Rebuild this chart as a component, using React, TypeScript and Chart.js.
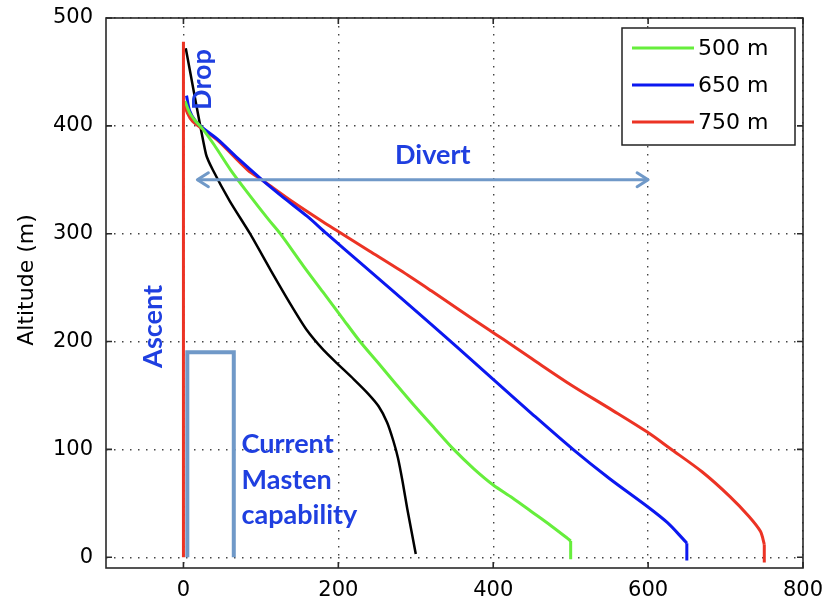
import { useEffect, useRef } from "react";
import { Chart, registerables } from "chart.js";

Chart.register(...registerables);

type Pt = [number, number];

const X_TICKS = [0, 200, 400, 600, 800];
const Y_TICKS = [0, 100, 200, 300, 400, 500];
const SERIES_LABELS = ["500 m", "650 m", "750 m"];

const GREEN_500: Pt[] = [
  [2, 423], [8, 412], [15, 405], [25, 397], [40, 382], [61, 359], [85, 336],
  [110, 313], [125, 300], [155, 270], [180, 246], [205, 222], [228, 200],
  [254, 178], [275, 160], [300, 139], [325, 119], [349, 100], [375, 82],
  [400, 67], [425, 55], [450, 42], [475, 29], [495, 18], [500, 15], [500, -2],
];

const BLUE_650: Pt[] = [
  [4, 428], [8, 414], [15, 405], [25, 398], [45, 387], [70, 370], [103, 349],
  [130, 333], [160, 316], [185, 300], [230, 272], [280, 241], [320, 216],
  [353, 195], [400, 165], [450, 133], [503, 100], [550, 73], [599, 47],
  [625, 32], [645, 17], [650, 13], [650, -3],
];

const RED_750: Pt[] = [
  [1, 422], [5, 412], [12, 404], [25, 397], [45, 386], [83, 359], [103, 349],
  [140, 330], [180, 311], [200, 302], [240, 284], [280, 266], [320, 247],
  [355, 230], [392, 212], [413, 202], [450, 184], [500, 160], [550, 138],
  [599, 116], [628, 101], [670, 79], [706, 56], [730, 38], [745, 24],
  [750, 12], [750, -5],
];

const BLACK_REF: Pt[] = [
  [3, 472], [29, 374], [38, 359], [60, 330], [86, 300], [112, 267], [138, 235],
  [159, 211], [181, 192], [198, 180], [220, 165], [238, 152], [252, 140],
  [263, 125], [271, 108], [277, 92], [283, 70], [289, 45], [300, 3],
];

const ASCENT_LINE: Pt[] = [[0, 0], [0, 478]];
const MASTEN_BOX: Pt[] = [[5, 0], [5, 190], [65, 190], [65, 0]];
const DIVERT_ARROW: Pt[] = [[18, 350], [600, 350]];

type Note = { text: string; x: number; y: number; rot: number; align: CanvasTextAlign };
const NOTES: Note[] = [
  { text: "Divert", x: 322, y: 365, rot: 0, align: "center" },
  { text: "Drop", x: 35.5, y: 443, rot: -90, align: "center" },
  { text: "Ascent", x: -27.6, y: 214, rot: -90, align: "center" },
  { text: "Current", x: 75, y: 97, rot: 0, align: "left" },
  { text: "Masten", x: 75, y: 63, rot: 0, align: "left" },
  { text: "capability", x: 75, y: 31, rot: 0, align: "left" },
];

const GREEN = "#66ee3c";
const BLUE = "#0b18f0";
const RED = "#ec3324";
const STEEL = "#7099c8";
const NOTE_BLUE = "#1f3fe0";
const SERIES_COLORS = [GREEN, BLUE, RED];

const toXY = (pts: Pt[]) => pts.map(([x, y]) => ({ x, y }));

const overlay = {
  id: "overlay",
  afterDatasetsDraw(chart: any) {
    const ctx: CanvasRenderingContext2D = chart.ctx;
    const xs = chart.scales.x;
    const ys = chart.scales.y;
    const area = chart.chartArea;

    // arrowheads on divert arrow
    ctx.save();
    ctx.strokeStyle = STEEL;
    ctx.lineWidth = 3;
    ctx.lineCap = "round";
    ctx.lineJoin = "round";
    const a0 = DIVERT_ARROW[0];
    const a1 = DIVERT_ARROW[DIVERT_ARROW.length - 1];
    const lx = xs.getPixelForValue(a0[0]);
    const ly = ys.getPixelForValue(a0[1]);
    const rx = xs.getPixelForValue(a1[0]);
    const ry = ys.getPixelForValue(a1[1]);
    ctx.beginPath();
    ctx.moveTo(lx + 11, ly - 7);
    ctx.lineTo(lx, ly);
    ctx.lineTo(lx + 11, ly + 7);
    ctx.moveTo(rx - 11, ry - 7);
    ctx.lineTo(rx, ry);
    ctx.lineTo(rx - 11, ry + 7);
    ctx.stroke();
    ctx.restore();

    // annotation texts
    ctx.save();
    ctx.fillStyle = NOTE_BLUE;
    ctx.font = "bold 27px Lato";
    ctx.textBaseline = "alphabetic";
    for (const n of NOTES) {
      const px = xs.getPixelForValue(n.x);
      const py = ys.getPixelForValue(n.y);
      ctx.save();
      ctx.translate(px, py);
      ctx.rotate((n.rot * Math.PI) / 180);
      ctx.textAlign = n.align;
      ctx.fillText(n.text, 0, 0);
      ctx.restore();
    }
    ctx.restore();

    // legend box
    ctx.save();
    const bw = 173;
    const bh = 117;
    const bx = area.right - 8 - bw;
    const by = area.top + 10;
    ctx.fillStyle = "#fff";
    ctx.fillRect(bx, by, bw, bh);
    ctx.strokeStyle = "#222";
    ctx.lineWidth = 1.5;
    ctx.strokeRect(bx, by, bw, bh);
    ctx.font = "22px 'DejaVu Sans'";
    ctx.textBaseline = "middle";
    ctx.textAlign = "left";
    SERIES_LABELS.forEach((lab, i) => {
      const yy = by + 20 + i * 37;
      ctx.strokeStyle = SERIES_COLORS[i];
      ctx.lineWidth = 3;
      ctx.beginPath();
      ctx.moveTo(bx + 10, yy);
      ctx.lineTo(bx + 72, yy);
      ctx.stroke();
      ctx.fillStyle = "#000";
      ctx.fillText(lab, bx + 76, yy + 1);
    });
    ctx.restore();
  },
  afterDraw(chart: any) {
    const ctx: CanvasRenderingContext2D = chart.ctx;
    const xs = chart.scales.x;
    const ys = chart.scales.y;
    const { left, right, top, bottom } = chart.chartArea;
    ctx.save();
    ctx.strokeStyle = "#2a2a2a";
    ctx.lineWidth = 1.6;
    ctx.strokeRect(left, top, right - left, bottom - top);
    const tl = 6;
    ctx.beginPath();
    for (const v of X_TICKS) {
      const px = xs.getPixelForValue(v);
      ctx.moveTo(px, bottom);
      ctx.lineTo(px, bottom - tl);
      ctx.moveTo(px, top);
      ctx.lineTo(px, top + tl);
    }
    for (const v of Y_TICKS) {
      const py = ys.getPixelForValue(v);
      ctx.moveTo(left, py);
      ctx.lineTo(left + tl, py);
      ctx.moveTo(right, py);
      ctx.lineTo(right - tl, py);
    }
    ctx.stroke();

    // y axis title
    ctx.fillStyle = "#000";
    ctx.font = "22px 'DejaVu Sans'";
    ctx.textAlign = "center";
    ctx.textBaseline = "alphabetic";
    ctx.translate(33, 280);
    ctx.rotate(-Math.PI / 2);
    ctx.fillText("Altitude (m)", 0, 0);
    ctx.restore();
  },
};

export default function App() {
  const ref = useRef<HTMLCanvasElement | null>(null);

  useEffect(() => {
    document.body.style.margin = "0";
    const canvas = ref.current;
    if (!canvas) return;
    const lineDs = (label: string, pts: Pt[], color: string, width: number, tension = 0) => ({
      label,
      data: toXY(pts),
      borderColor: color,
      backgroundColor: color,
      borderWidth: width,
      pointRadius: 0,
      pointHoverRadius: 0,
      tension,
      fill: false,
    });
    // smooth curve body + straight vertical landing tail
    const curve = (label: string, pts: Pt[], color: string) => [
      lineDs(label, pts.slice(0, -1), color, 3, 0.3),
      lineDs(label + " tail", pts.slice(-2), color, 3, 0),
    ];
    const zeroPad = (s: any) => {
      s.paddingLeft = 0;
      s.paddingRight = 0;
      s.paddingTop = 0;
      s.paddingBottom = 0;
    };
    const chart = new Chart(canvas, {
      type: "line",
      data: {
        datasets: [
          lineDs("Masten", MASTEN_BOX, STEEL, 4),
          lineDs("Divert", DIVERT_ARROW, STEEL, 3),
          lineDs("Ascent", ASCENT_LINE, RED, 3),
          ...curve(SERIES_LABELS[0], GREEN_500, GREEN),
          ...curve(SERIES_LABELS[1], BLUE_650, BLUE),
          ...curve(SERIES_LABELS[2], RED_750, RED),
          lineDs("Reference", BLACK_REF, "#000", 2.5, 0.2),
        ] as any,
      },
      options: {
        animation: false,
        responsive: true,
        maintainAspectRatio: false,
        layout: { padding: { top: 18, right: 20, left: 0, bottom: 0 } },
        plugins: {
          legend: { display: false },
          tooltip: { enabled: false },
        },
        scales: {
          x: {
            type: "linear",
            min: -100,
            max: 800,
            afterBuildTicks: (s: any) => {
              s.ticks = X_TICKS.map((v) => ({ value: v }));
            },
            afterFit: (s: any) => {
              s.height = 38;
              zeroPad(s);
            },
            grid: { color: "#444", lineWidth: 1.4, drawTicks: false },
            border: { display: false, dash: [1.5, 6.5] },
            ticks: {
              padding: 10,
              color: "#000",
              font: { family: "'DejaVu Sans'", size: 21 },
              maxRotation: 0,
            },
          },
          y: {
            type: "linear",
            min: -10,
            max: 500,
            afterBuildTicks: (s: any) => {
              s.ticks = Y_TICKS.map((v) => ({ value: v }));
            },
            afterFit: (s: any) => {
              s.width = 106;
              zeroPad(s);
            },
            grid: { color: "#444", lineWidth: 1.4, drawTicks: false },
            border: { display: false, dash: [1.5, 6.5] },
            ticks: {
              padding: 13,
              color: "#000",
              font: { family: "'DejaVu Sans'", size: 21 },
            },
          },
        },
      },
      plugins: [overlay],
    });
    return () => chart.destroy();
  }, []);

  return (
    <div style={{ width: 823, height: 606, position: "relative", background: "#fff" }}>
      <canvas ref={ref} style={{ display: "block" }} />
    </div>
  );
}
